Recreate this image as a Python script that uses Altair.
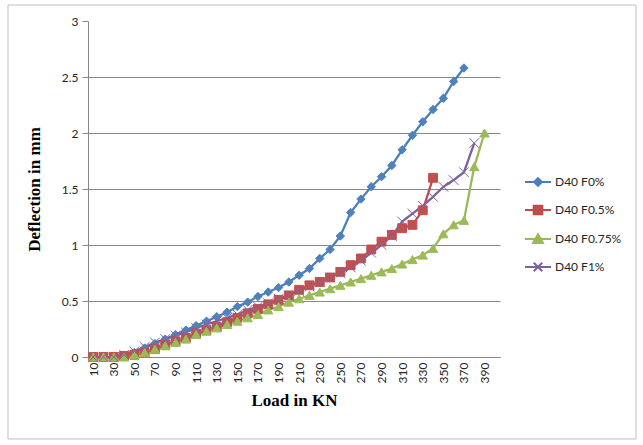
import altair as alt
import pandas as pd

# Load steps (kN) on the category axis
loads = list(range(10, 400, 10))

# Mid-span deflection (mm) for each fibre content
d40_f0 = [0, 0, 0, 0.01, 0.04, 0.08, 0.12, 0.16, 0.20, 0.24,
          0.28, 0.32, 0.36, 0.40, 0.45, 0.49, 0.54, 0.58, 0.62, 0.67,
          0.73, 0.79, 0.88, 0.96, 1.08, 1.29, 1.41, 1.52, 1.61, 1.71,
          1.85, 1.98, 2.10, 2.21, 2.31, 2.46, 2.58]
d40_f05 = [0, 0, 0, 0.01, 0.02, 0.04, 0.07, 0.11, 0.14, 0.17,
           0.21, 0.24, 0.27, 0.31, 0.35, 0.39, 0.43, 0.47, 0.51, 0.55,
           0.60, 0.64, 0.67, 0.71, 0.76, 0.82, 0.88, 0.96, 1.03, 1.09,
           1.15, 1.18, 1.31, 1.60]
d40_f075 = [0, 0, 0, 0, 0.02, 0.04, 0.07, 0.10, 0.13, 0.16,
            0.20, 0.23, 0.26, 0.29, 0.32, 0.35, 0.38, 0.42, 0.45, 0.49,
            0.52, 0.55, 0.58, 0.61, 0.64, 0.67, 0.70, 0.73, 0.76, 0.79,
            0.83, 0.87, 0.91, 0.97, 1.10, 1.18, 1.22, 1.70, 2.00]
d40_f1 = [0, 0, 0, 0.02, 0.05, 0.09, 0.13, 0.16, 0.19, 0.22,
          0.26, 0.29, 0.32, 0.35, 0.38, 0.42, 0.45, 0.48, 0.52, 0.55,
          0.59, 0.63, 0.67, 0.71, 0.75, 0.80, 0.86, 0.93, 1.00, 1.08,
          1.21, 1.28, 1.35, 1.43, 1.52, 1.58, 1.65, 1.91]

series_names = ["D40 F0%", "D40 F0.5%", "D40 F0.75%", "D40 F1%"]
line_colors = ["#4A7EBB", "#BE4B48", "#98B954", "#7D60A0"]
marker_colors = ["#4F81BD", "#C0504D", "#9BBB59", "#8064A2"]
marker_shapes = ["diamond", "square", "triangle-up", "M-1,-1L1,1M-1,1L1,-1"]
marker_sizes = [70, 95, 95, 70]
# legend keys: a short line with the series marker in the middle
legend_shapes = [
    "M-1,0L1,0M0,-0.3L0.3,0L0,0.3L-0.3,0Z",
    "M-1,0L1,0M-0.33,-0.33L0.33,-0.33L0.33,0.33L-0.33,0.33Z",
    "M-1,0L1,0M0,-0.36L0.38,0.3L-0.38,0.3Z",
    "M-1,0L1,0M-0.33,-0.33L0.33,0.33M-0.33,0.33L0.33,-0.33",
]

rows = []
for name, vals in zip(series_names, [d40_f0, d40_f05, d40_f075, d40_f1]):
    for load, v in zip(loads, vals):
        rows.append({"load": load, "deflection": v, "series": name})
df = pd.DataFrame(rows)

GRID = "#878787"
TEXT = "#262626"
W, H = 412, 336
PAD_L, PAD_T = 88, 21

x = alt.X(
    "load:Q",
    scale=alt.Scale(domain=[5, 405], nice=False, zero=False),
    axis=alt.Axis(
        values=list(range(10, 400, 20)), labelAngle=-90, grid=False, ticks=False,
        labelFont="Lato", labelFontSize=12, labelColor=TEXT, labelPadding=5,
        domainColor=GRID, domainWidth=1,
        title="Load in KN", titleFont="Liberation Serif", titleFontSize=17,
        titleFontWeight="bold", titleColor="#000", titlePadding=10,
    ),
)
y = alt.Y(
    "deflection:Q",
    scale=alt.Scale(domain=[0, 3], nice=False),
    axis=alt.Axis(
        values=[0, 0.5, 1, 1.5, 2, 2.5, 3], format="~g",
        grid=True, gridWidth=1,
        gridColor={"condition": {"test": "datum.value >= 3", "value": "transparent"}, "value": GRID},
        ticks=True, tickSize=6, tickColor=GRID, domainColor=GRID,
        labelFont="Lato", labelFontSize=12, labelColor=TEXT, labelPadding=4,
        title="Deflection in mm", titleFont="Liberation Serif", titleFontSize=17,
        titleFontWeight="bold", titleColor="#000", titlePadding=18,
    ),
)

lines = alt.Chart(df).mark_line(strokeWidth=2.25).encode(
    x=x, y=y,
    color=alt.Color("series:N", scale=alt.Scale(domain=series_names, range=line_colors), legend=None),
)

points = alt.Chart(df).mark_point(filled=True, opacity=1, strokeWidth=1).encode(
    x=x, y=y,
    color=alt.Color("series:N", scale=alt.Scale(domain=series_names, range=marker_colors), legend=None),
    stroke=alt.Stroke("series:N", scale=alt.Scale(domain=series_names, range=marker_colors), legend=None),
    shape=alt.Shape("series:N", scale=alt.Scale(domain=series_names, range=marker_shapes), legend=None),
    size=alt.Size("series:N", scale=alt.Scale(domain=series_names, range=marker_sizes), legend=None),
)

key = alt.Legend(
    title=None, orient="none", legendX=436, legendY=147,
    symbolSize=676, symbolStrokeWidth=2, symbolOpacity=1,
    labelFont="Lato", labelFontSize=12, labelColor=TEXT, labelOffset=3,
    rowPadding=6,
)
legend_layer = alt.Chart(df).mark_point(filled=True, opacity=0).encode(
    x=x, y=y,
    color=alt.Color("series:N", scale=alt.Scale(domain=series_names, range=marker_colors), legend=key),
    stroke=alt.Stroke("series:N", scale=alt.Scale(domain=series_names, range=line_colors), legend=key),
    shape=alt.Shape("series:N", scale=alt.Scale(domain=series_names, range=legend_shapes), legend=key),
)

# thin frame round the whole chart area
frame = alt.Chart(pd.DataFrame({"k": [0]})).mark_rect(
    fill=None, stroke="#BFBFBF", strokeWidth=1, clip=False
).encode(
    x=alt.value(-80), x2=alt.value(548), y=alt.value(-16), y2=alt.value(418),
)

chart = (
    alt.layer(frame, lines, points, legend_layer)
    .resolve_scale(color="independent", stroke="independent", shape="independent", size="independent")
    .properties(
        width=W, height=H,
        autosize=alt.AutoSizeParams(type="none"),
        padding={"left": PAD_L, "top": PAD_T, "right": 643 - PAD_L - W, "bottom": 445 - PAD_T - H},
        background="white",
    )
    .configure_view(stroke=None)
)

chart.save("out.html", embed_options={"renderer": "svg", "actions": False})
